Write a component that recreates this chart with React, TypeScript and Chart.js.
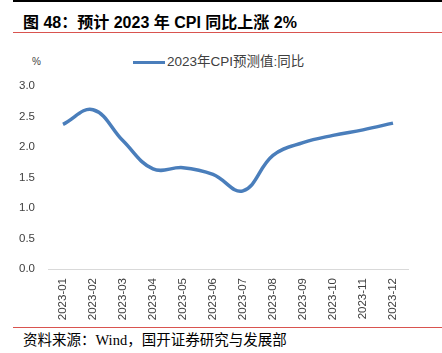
import React, { useEffect, useRef } from "react";
import { Chart, registerables } from "chart.js";

Chart.register(...registerables);

const categories = [
  "2023-01", "2023-02", "2023-03", "2023-04", "2023-05", "2023-06",
  "2023-07", "2023-08", "2023-09", "2023-10", "2023-11", "2023-12",
];
const cpiForecast = [2.37, 2.61, 2.1, 1.64, 1.66, 1.55, 1.28, 1.86, 2.07, 2.19, 2.28, 2.39];
const seriesName = "2023年CPI预测值:同比";
const titleText = "图 48：预计 2023 年 CPI 同比上涨 2%";
const sourceText = "资料来源：Wind，国开证券研究与发展部";
const yUnit = "%";

const BLUE = "#4A7EBB";
const RED = "#D9534F";

export default function App() {
  const ref = useRef<HTMLCanvasElement | null>(null);

  useEffect(() => {
    if (!ref.current) return;
    const chart = new Chart(ref.current, {
      type: "line",
      data: {
        labels: categories,
        datasets: [
          {
            label: seriesName,
            data: cpiForecast,
            borderColor: BLUE,
            backgroundColor: BLUE,
            borderWidth: 3.5,
            pointRadius: 0,
            tension: 0.4,
            fill: false,
          },
        ],
      },
      options: {
        responsive: false,
        animation: false,
        maintainAspectRatio: false,
        layout: { padding: { top: 10, right: 34, bottom: 0, left: 0 } },
        plugins: { legend: { display: false }, tooltip: { enabled: false } },
        scales: {
          x: {
            offset: true,
            grid: { display: false, drawTicks: false, offset: true },
            border: { display: true, color: "#D9D9D9", width: 1 },
            ticks: {
              minRotation: 90,
              maxRotation: 90,
              autoSkip: false,
              padding: 9,
              color: "#404040",
              font: { family: "'Liberation Sans', Arial, sans-serif", size: 11.5 },
            },
            afterFit: (s: any) => {
              s.height = 56;
            },
          },
          y: {
            min: 0,
            max: 3,
            grid: { display: false, drawTicks: false },
            border: { display: false },
            ticks: {
              stepSize: 0.5,
              padding: 13,
              color: "#404040",
              font: { family: "'Liberation Sans', Arial, sans-serif", size: 11.5 },
              callback: (v: any) => Number(v).toFixed(1),
            },
            afterFit: (s: any) => {
              s.width = 48;
            },
          },
        },
      },
    });
    return () => chart.destroy();
  }, []);

  return (
    <div
      style={{
        position: "absolute",
        left: 0,
        top: 0,
        width: 442,
        height: 353,
        background: "#fff",
        overflow: "hidden",
        fontFamily: "'Liberation Sans', 'Noto Sans CJK SC', sans-serif",
      }}
    >
      <div style={{ position: "absolute", left: 13, top: 0, width: 429, height: 1.5, background: "#000" }} />
      <div
        style={{
          position: "absolute",
          left: 23,
          top: 12,
          fontSize: 16,
          fontWeight: "bold",
          color: "#000",
          whiteSpace: "nowrap",
          lineHeight: "22px",
          fontFamily: "'Liberation Sans', 'Noto Sans CJK SC', sans-serif",
        }}
      >
        {titleText}
      </div>
      <div style={{ position: "absolute", left: 13, top: 32, width: 429, height: 1, background: RED }} />
      <div
        style={{
          position: "absolute",
          left: 32,
          top: 55,
          fontSize: 10,
          color: "#404040",
          lineHeight: "14px",
        }}
      >
        {yUnit}
      </div>
      <div style={{ position: "absolute", left: 133, top: 60.5, width: 32, height: 3.5, background: BLUE }} />
      <div
        style={{
          position: "absolute",
          left: 167,
          top: 52,
          fontSize: 13.5,
          color: "#404040",
          lineHeight: "20px",
          whiteSpace: "nowrap",
          fontFamily: "'Liberation Sans', 'Noto Sans CJK SC', sans-serif",
        }}
      >
        {seriesName}
      </div>
      <canvas ref={ref} width={442} height={259} style={{ position: "absolute", left: 0, top: 66, width: 442, height: 259 }} />
      <div style={{ position: "absolute", left: 13, top: 327, width: 429, height: 1, background: RED }} />
      <div
        style={{
          position: "absolute",
          left: 23,
          top: 331,
          fontSize: 14.5,
          color: "#000",
          lineHeight: "18px",
          whiteSpace: "nowrap",
          fontFamily: "'Liberation Serif', 'Noto Sans CJK SC', serif",
        }}
      >
        {sourceText}
      </div>
    </div>
  );
}
